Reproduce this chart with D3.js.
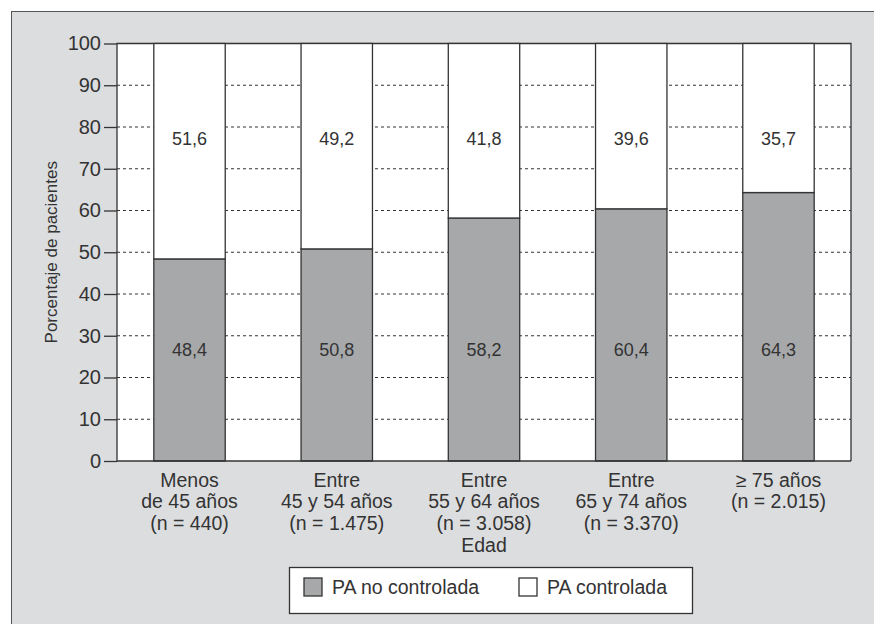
<!DOCTYPE html>
<meta charset="utf-8">
<style>
body { margin: 0; background: #fff; }
text { font-family: "Liberation Sans", Arial, sans-serif; fill: #333; }
.grid line { stroke: #333; stroke-dasharray: 3 3; stroke-width: 1; }
.axis path, .axis line { stroke: #333; stroke-width: 1.3; }
</style>
<body>
<script src="https://cdn.jsdelivr.net/npm/d3@7"></script>
<script>

var groups = ['g1', 'g2', 'g3', 'g4', 'g5']
var groupLabels = [
    ['Menos', 'de 45 años', '(n = 440)'],
    ['Entre', '45 y 54 años', '(n = 1.475)'],
    ['Entre', '55 y 64 años', '(n = 3.058)'],
    ['Entre', '65 y 74 años', '(n = 3.370)'],
    ['\u2265 75 años', '(n = 2.015)']
]
var noControlada = [48.4, 50.8, 58.2, 60.4, 64.3]
var controlada = [51.6, 49.2, 41.8, 39.6, 35.7]
var yTicks = [0, 10, 20, 30, 40, 50, 60, 70, 80, 90, 100]
var seriesNames = ['PA no controlada', 'PA controlada']

var width = 874
var height = 624
var margin = {top: 43.5, right: 23, bottom: 163, left: 117}
var gray = '#a7a8aa'

var svg = d3.select('body').append('svg')
    .attr('width', width)
    .attr('height', height)

// outer panel
svg.append('rect')
    .attr('x', 11.5).attr('y', 11.5)
    .attr('width', width + 20).attr('height', height + 20)
    .attr('fill', '#dcdddf')
    .attr('stroke', '#555')
    .attr('stroke-width', 1)

var x = d3.scaleBand()
    .domain(groups)
    .range([margin.left, width - margin.right])
    .paddingInner(0.515)
    .paddingOuter(0.25)

var y = d3.scaleLinear()
    .domain([0, 100])
    .range([height - margin.bottom, margin.top])

// plot background
svg.append('rect')
    .attr('x', margin.left).attr('y', y(100))
    .attr('width', width - margin.right - margin.left)
    .attr('height', y(0) - y(100))
    .attr('fill', '#fff')

svg.append('g')
    .attr('class', 'grid')
    .selectAll('line')
    .data(yTicks.filter(function (d) { return d > 0 && d < 100 }))
    .enter().append('line')
    .attr('x1', margin.left).attr('x2', width - margin.right)
    .attr('y1', function (d) { return y(d) }).attr('y2', function (d) { return y(d) })

// frame
svg.append('path')
    .attr('d', 'M' + margin.left + ',' + y(0) + 'V' + y(100) + 'H' + (width - margin.right) + 'V' + y(0))
    .attr('fill', 'none')
    .attr('stroke', '#333')
    .attr('stroke-width', 1.3)

var bars = svg.append('g').selectAll('g')
    .data(groups)
    .enter().append('g')

bars.append('rect')
    .attr('x', function (d) { return x(d) })
    .attr('width', x.bandwidth())
    .attr('y', function (d, i) { return y(noControlada[i]) })
    .attr('height', function (d, i) { return y(0) - y(noControlada[i]) })
    .attr('fill', gray)
    .attr('stroke', '#333')
    .attr('stroke-width', 1.3)

bars.append('rect')
    .attr('x', function (d) { return x(d) })
    .attr('width', x.bandwidth())
    .attr('y', function (d, i) { return y(noControlada[i] + controlada[i]) })
    .attr('height', function (d, i) { return y(noControlada[i]) - y(noControlada[i] + controlada[i]) })
    .attr('fill', '#fff')
    .attr('stroke', '#333')
    .attr('stroke-width', 1.3)

bars.append('text')
    .attr('x', function (d) { return x(d) + x.bandwidth() / 2 })
    .attr('y', y(26.6))
    .attr('dy', '0.35em')
    .attr('text-anchor', 'middle')
    .style('font-size', '18px')
    .text(function (d, i) { return String(noControlada[i]).replace('.', ',') })

bars.append('text')
    .attr('x', function (d) { return x(d) + x.bandwidth() / 2 })
    .attr('y', y(77.1))
    .attr('dy', '0.35em')
    .attr('text-anchor', 'middle')
    .style('font-size', '18px')
    .text(function (d, i) { return String(controlada[i]).replace('.', ',') })

// y axis
var yAxis = svg.append('g')
    .attr('class', 'axis')
    .attr('transform', 'translate(' + margin.left + ',0)')
    .call(d3.axisLeft(y).tickValues(yTicks).tickSize(13).tickPadding(3))
yAxis.select('.domain').remove()
yAxis.selectAll('text').style('font-size', '20px').attr('fill', '#333')

svg.append('line')
    .attr('x1', margin.left).attr('x2', width - margin.right)
    .attr('y1', y(0)).attr('y2', y(0))
    .attr('stroke', '#333').attr('stroke-width', 1.3)

svg.append('text')
    .attr('transform', 'translate(57,' + (y(50)) + ') rotate(-90)')
    .attr('text-anchor', 'middle')
    .style('font-size', '17px')
    .text('Porcentaje de pacientes')

// x labels
var xl = svg.append('g').selectAll('text')
    .data(groups)
    .enter().append('text')
    .attr('text-anchor', 'middle')
    .attr('x', function (d) { return x(d) + x.bandwidth() / 2 })
    .attr('y', y(0) + 26)
    .style('font-size', '19.5px')
xl.selectAll('tspan')
    .data(function (d, i) { return groupLabels[i] })
    .enter().append('tspan')
    .attr('x', function () { return d3.select(this.parentNode).attr('x') })
    .attr('dy', function (d, i) { return i === 0 ? 0 : 21.3 })
    .text(function (d) { return d })

svg.append('text')
    .attr('x', x('g3') + x.bandwidth() / 2)
    .attr('y', 552)
    .attr('text-anchor', 'middle')
    .style('font-size', '19.5px')
    .text('Edad')

// legend
var legend = svg.append('g')
legend.append('rect')
    .attr('x', 289.5).attr('y', 567.5)
    .attr('width', 403).attr('height', 46)
    .attr('fill', '#fff')
    .attr('stroke', '#333')
    .attr('stroke-width', 1.3)

var items = legend.selectAll('g.item')
    .data(seriesNames)
    .enter().append('g')
    .attr('class', 'item')
    .attr('transform', function (d, i) { return 'translate(' + (i === 0 ? 304 : 519) + ',578)' })
items.append('rect')
    .attr('width', 18).attr('height', 18)
    .attr('fill', function (d, i) { return i === 0 ? gray : '#fff' })
    .attr('stroke', '#333')
    .attr('stroke-width', 1.3)
items.append('text')
    .attr('x', 28).attr('y', 9)
    .attr('dy', '0.35em')
    .style('font-size', '19.5px')
    .text(function (d) { return d })

</script>
</body>
